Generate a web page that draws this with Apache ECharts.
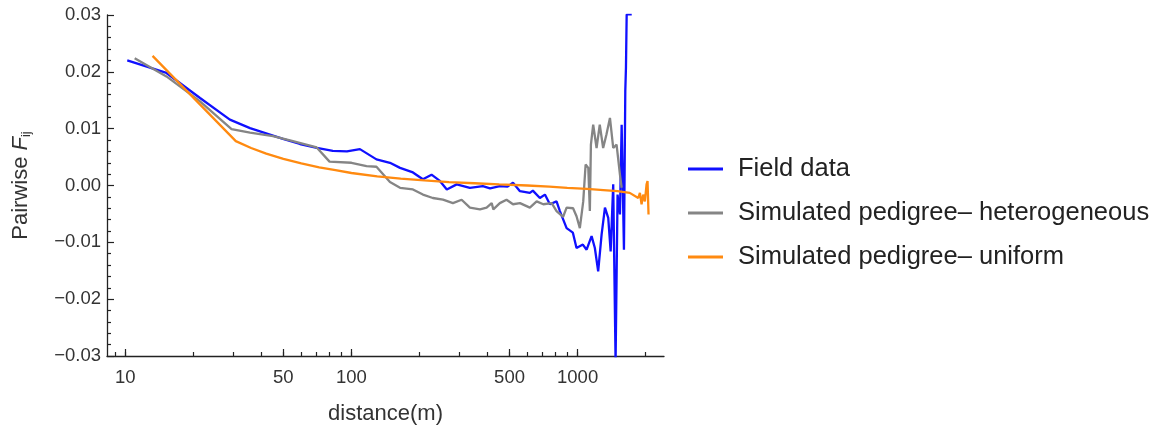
<!DOCTYPE html>
<html>
<head>
<meta charset="utf-8">
<script src="https://cdn.jsdelivr.net/npm/echarts@6/dist/echarts.min.js"></script>
<style>
html,body{margin:0;padding:0;background:#fff;}
#chart{width:1156px;height:425px;}
</style>
</head>
<body>
<div id="chart"></div>
<script>
// ---- data (distance in m, pairwise F_ij) ----
const fieldDist = [10.2, 15.2, 21.4, 29.0, 35.6, 49.8, 59.2, 70.3, 82.7, 95.5, 109, 129, 148, 164, 187, 207, 226, 246, 264, 292, 334, 381, 410, 453, 490, 518, 556, 615, 634, 681, 717, 754, 807, 835, 894, 953, 989, 1055, 1096, 1153, 1192, 1233, 1277, 1321, 1366, 1400, 1437, 1472, 1502, 1539, 1566, 1603, 1625, 1636, 1648, 1735];
const fieldF = [0.0220, 0.0198, 0.0154, 0.0116, 0.0101, 0.0082, 0.0073, 0.0066, 0.0061, 0.0060, 0.0064, 0.0046, 0.0040, 0.0031, 0.0023, 0.0011, 0.0019, 0.0008, -0.0007, 0.0002, -0.0004, -0.0001, -0.0005, -0.0001, -0.0002, 0.0005, -0.0010, -0.0013, -0.0009, -0.0022, -0.0016, -0.0033, -0.0028, -0.0045, -0.0075, -0.0083, -0.0110, -0.0104, -0.0113, -0.0089, -0.0110, -0.0151, -0.0086, -0.0039, -0.0057, -0.0116, 0.0002, -0.0310, -0.0016, -0.0051, 0.0107, -0.0113, 0.0166, 0.0207, 0.0301, 0.0301];

const hetDist = [11.0, 15.2, 21.4, 29.5, 35.6, 45.0, 55.1, 70.2, 80, 100, 116.6, 129, 148, 164, 187, 207, 229, 254, 281, 307, 334, 370, 396, 417, 424, 453, 485, 518, 556, 615, 659, 705, 768, 807, 863, 894, 955, 989, 1023, 1059, 1085, 1115, 1133, 1145, 1172, 1213, 1253, 1297, 1342, 1390, 1437, 1487, 1539, 1566];
const hetF = [0.0224, 0.0192, 0.0148, 0.0099, 0.0093, 0.0087, 0.0078, 0.0067, 0.0042, 0.0040, 0.0034, 0.0033, 0.0006, -0.0004, -0.0007, -0.0016, -0.0022, -0.0025, -0.0031, -0.0025, -0.0039, -0.0042, -0.0039, -0.0031, -0.0042, -0.0031, -0.0025, -0.0033, -0.0031, -0.0039, -0.0028, -0.0033, -0.0031, -0.0045, -0.0055, -0.0039, -0.0040, -0.0054, -0.0075, -0.0028, 0.0037, 0.0031, -0.0045, 0.0072, 0.0107, 0.0066, 0.0107, 0.0066, 0.0090, 0.0119, 0.0066, 0.0072, 0.0019, -0.0004];

const uniDist = [13.2, 30.8, 36, 42, 50, 60, 72, 85, 100, 130, 165, 210, 270, 350, 450, 600, 750, 900, 1100, 1300, 1500, 1700, 1854, 1886, 1918, 1950, 1984, 2018, 2038, 2059];
const uniF = [0.0228, 0.0078, 0.0066, 0.0056, 0.0047, 0.0039, 0.0032, 0.0027, 0.0022, 0.0016, 0.0012, 0.0009, 0.0006, 0.0004, 0.0002, 0.0000, -0.0002, -0.0004, -0.0006, -0.0008, -0.0010, -0.0013, -0.0022, -0.0013, -0.0033, -0.0016, -0.0028, 0.0002, 0.0008, -0.0051];

const seriesNames = ['Field data', 'Simulated pedigree\u2013 heterogeneous', 'Simulated pedigree\u2013 uniform'];
const xMinorTicks = [9, 10, 20, 30, 40, 50, 60, 70, 80, 90, 100, 200, 300, 400, 500, 600, 700, 800, 900, 1000, 2000];
const xMajorTicks = [10, 50, 100, 500, 1000];
const xTickLabels = [10, 50, 100, 500, 1000];
// ------------------------------------------------

const zip = (xs, ys) => xs.map((x, i) => [x, ys[i]]);
const FONT = '"Liberation Sans", Arial, sans-serif';
const AX = '#222';
const XMIN = 8.3, XMAX = 2410;

const chart = echarts.init(document.getElementById('chart'), null, {renderer: 'canvas'});
chart.setOption({
  animation: false,
  backgroundColor: '#fff',
  grid: {left: 107, right: 492, top: 15, bottom: 69, containLabel: false, outerBoundsMode: 'none'},
  legend: {
    orient: 'vertical',
    left: 683, top: 149,
    itemWidth: 35, itemHeight: 3, itemGap: 14,
    icon: 'rect',
    data: seriesNames,
    textStyle: {fontFamily: FONT, fontSize: 25.5, color: '#222', lineHeight: 30, padding: [0, 0, 0, 10]}
  },
  xAxis: [{
    type: 'log', logBase: 10, min: XMIN, max: XMAX, position: 'bottom',
    name: 'distance(m)', nameLocation: 'middle', nameGap: 47,
    nameTextStyle: {fontFamily: FONT, fontSize: 22, color: '#333'},
    axisLine: {show: true, onZero: false, lineStyle: {color: AX, width: 1.3}},
    axisTick: {show: true, inside: true, length: 4, customValues: xMinorTicks, lineStyle: {color: AX, width: 1.2}},
    axisLabel: {show: true, margin: 12, customValues: xTickLabels, fontFamily: FONT, fontSize: 18.5, color: '#333',
      formatter: v => String(Math.round(v))},
    splitLine: {show: false}, minorTick: {show: false}
  }, {
    type: 'log', logBase: 10, min: XMIN, max: XMAX, position: 'bottom',
    axisLine: {show: false, onZero: false},
    axisTick: {show: true, inside: true, length: 7, customValues: xMajorTicks, lineStyle: {color: AX, width: 1.2}},
    axisLabel: {show: false},
    splitLine: {show: false}
  }],
  yAxis: {
    type: 'value', min: -0.03, max: 0.03, interval: 0.01,
    name: 'Pairwise {f|F}{s|ij}', nameLocation: 'middle', nameRotate: 90, nameGap: 74,
    nameTextStyle: {fontFamily: FONT, fontSize: 22, color: '#333',
      rich: {f: {fontFamily: FONT, fontSize: 22, fontStyle: 'italic', color: '#333'},
             s: {fontFamily: FONT, fontSize: 13, color: '#333', padding: [12, 0, 0, 0]}}},
    axisLine: {show: true, onZero: false, lineStyle: {color: AX, width: 1.3}},
    axisTick: {show: true, inside: true, length: 7, lineStyle: {color: AX, width: 1.2}},
    minorTick: {show: true, splitNumber: 5, length: 4, lineStyle: {color: AX, width: 1.2}},
    axisLabel: {margin: 6, fontFamily: FONT, fontSize: 18.5, color: '#333',
      formatter: v => (v < -1e-9 ? '\u2212' : '') + Math.abs(v).toFixed(2)},
    splitLine: {show: false}
  },
  series: [
    {name: seriesNames[0], type: 'line', data: zip(fieldDist, fieldF), color: '#1010ff', showSymbol: false, symbol: 'none',
     lineStyle: {width: 2.3, color: '#1010ff'}, clip: true},
    {name: seriesNames[1], type: 'line', data: zip(hetDist, hetF), color: '#858585', showSymbol: false, symbol: 'none',
     lineStyle: {width: 2.3, color: '#858585'}, clip: true},
    {name: seriesNames[2], type: 'line', data: zip(uniDist, uniF), color: '#ff8a10', showSymbol: false, symbol: 'none',
     lineStyle: {width: 2.3, color: '#ff8a10'}, clip: true}
  ]
});
</script>
</body>
</html>
